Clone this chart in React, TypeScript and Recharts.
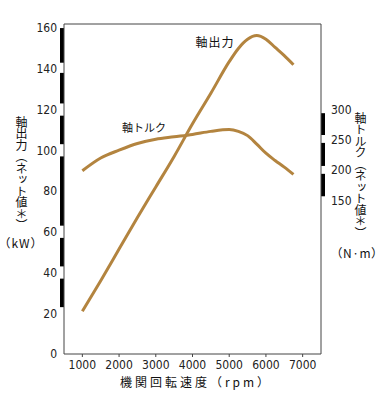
import React from 'react';
import { LineChart, Line, XAxis, YAxis, ReferenceArea, ReferenceLine, ReferenceDot } from 'recharts';

const rpm = [1000, 1500, 2000, 2500, 3000, 3500, 4000, 4500, 5000, 5250, 5500, 5750, 6000, 6250, 6500, 6750];
const power = [21, 36, 51.5, 67, 82, 97, 113, 128, 143.5, 150, 154.5, 156.3, 154.5, 150.5, 146.5, 142];
const torque = [199, 220, 233, 244, 251, 255, 259, 264, 267, 264, 257, 243, 228, 216, 205, 193];

const xTicks = [1000, 2000, 3000, 4000, 5000, 6000, 7000];
const powerTicks = [0, 20, 40, 60, 80, 100, 120, 140, 160];
const torqueTicks = [150, 200, 250, 300];
const powerBands = [[160, 143], [138, 123], [117, 103], [97, 63], [57, 43], [37, 23]];
const torqueBands = [[294, 258], [245, 207], [194, 157]];

const data = rpm.map((r, i) => ({ rpm: r, power: power[i], torque: torque[i] }));

const NARROW = "'Liberation Sans Narrow', 'DejaVu Sans Condensed', 'Liberation Sans', sans-serif";
const CJK = "'Noto Sans CJK JP', 'Noto Sans', sans-serif";
const CURVE = '#b3843f';
const AXIS = '#444';

export default function App() {
  return (
    <div style={{ position: 'absolute', left: 0, top: 0, width: 380, height: 393, background: '#fff', overflow: 'hidden' }}>
      <LineChart width={380} height={393} data={data} margin={{ top: 24, right: 0, bottom: 0, left: 0 }}>
        <XAxis
          dataKey="rpm"
          type="number"
          domain={[500, 7500]}
          allowDataOverflow
          ticks={xTicks}
          height={39}
          tickSize={3}
          tickMargin={3}
          stroke={AXIS}
          tick={{ fontSize: 12, fill: '#222', fontFamily: NARROW }}
        />
        <YAxis
          yAxisId="left"
          type="number"
          domain={[0, 162]}
          allowDataOverflow
          ticks={powerTicks}
          width={64}
          tickLine={false}
          tickSize={5}
          tickMargin={2}
          stroke={AXIS}
          tick={{ fontSize: 12, fill: '#222', fontFamily: NARROW }}
        />
        <YAxis
          yAxisId="right"
          orientation="right"
          type="number"
          domain={[-103, 441]}
          allowDataOverflow
          ticks={torqueTicks}
          width={59}
          tickLine={false}
          tickSize={8}
          tickMargin={2}
          stroke={AXIS}
          tick={{ fontSize: 12, fill: '#222', fontFamily: NARROW, textAnchor: 'start' }}
        />
        <ReferenceLine yAxisId="left" y={162} stroke={AXIS} ifOverflow="visible" />
        {powerBands.map(([a, b], i) => (
          <ReferenceArea
            key={'pb' + i}
            yAxisId="left"
            x1={391}
            x2={500}
            y1={b}
            y2={a}
            fill="#000"
            fillOpacity={1}
            stroke="none"
            ifOverflow="visible"
          />
        ))}
        {torqueBands.map(([a, b], i) => (
          <ReferenceArea
            key={'tb' + i}
            yAxisId="right"
            x1={7500}
            x2={7609}
            y1={b}
            y2={a}
            fill="#000"
            fillOpacity={1}
            stroke="none"
            ifOverflow="visible"
          />
        ))}
        <Line
          yAxisId="left"
          dataKey="power"
          type="monotone"
          stroke={CURVE}
          strokeWidth={3}
          dot={false}
          isAnimationActive={false}
        />
        <Line
          yAxisId="right"
          dataKey="torque"
          type="monotone"
          stroke={CURVE}
          strokeWidth={3}
          dot={false}
          isAnimationActive={false}
        />
        <ReferenceDot
          yAxisId="left"
          x={4613}
          y={152.7}
          r={0}
          fill="none"
          stroke="none"
          label={{ value: '軸出力', position: 'center', fontSize: 12, fill: '#111', fontFamily: CJK, letterSpacing: 1 }}
        />
        <ReferenceDot
          yAxisId="left"
          x={2679}
          y={111}
          r={0}
          fill="none"
          stroke="none"
          label={{ value: '軸トルク', position: 'center', fontSize: 11, fill: '#111', fontFamily: CJK }}
        />
      </LineChart>
      <div style={{ position: 'absolute', left: 15, top: 116, writingMode: 'vertical-rl', fontFamily: CJK, fontSize: 12, letterSpacing: -0.5, lineHeight: 1, color: '#111' }}>
        軸出力（ネット値＊）
      </div>
      <div style={{ position: 'absolute', left: 21, top: 243, transform: 'translate(-50%, -50%)', fontFamily: CJK, fontSize: 12, fontFeatureSettings: '"halt"', letterSpacing: 1, lineHeight: 1, whiteSpace: 'nowrap', color: '#111' }}>
        （kW）
      </div>
      <div style={{ position: 'absolute', left: 354, top: 112, writingMode: 'vertical-rl', fontFamily: CJK, fontSize: 12, letterSpacing: -0.5, lineHeight: 1, color: '#111' }}>
        軸トルク（ネット値＊）
      </div>
      <div style={{ position: 'absolute', left: 357, top: 253, transform: 'translate(-50%, -50%)', fontFamily: CJK, fontSize: 12, fontFeatureSettings: '"halt"', letterSpacing: 0.5, lineHeight: 1, whiteSpace: 'nowrap', color: '#111' }}>
        （N·m）
      </div>
      <div style={{ position: 'absolute', left: 196, top: 382, transform: 'translate(-50%, -50%)', fontFamily: CJK, fontSize: 12, letterSpacing: 3, lineHeight: 1, whiteSpace: 'nowrap', color: '#111' }}>
        機関回転速度（rpm）
      </div>
    </div>
  );
}
